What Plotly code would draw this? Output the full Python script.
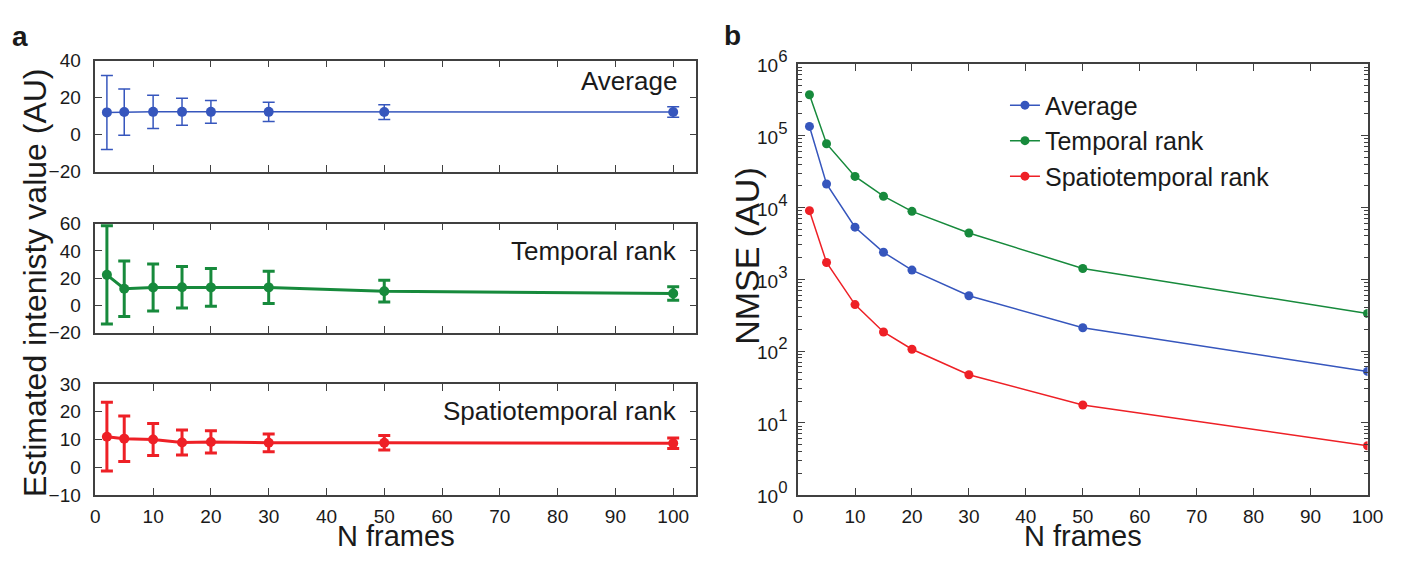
import plotly.graph_objects as go

# ---------------- data ----------------
n_frames = [2, 5, 10, 15, 20, 30, 50, 100]

avg_mean = [12.0, 12.2, 12.3, 12.3, 12.3, 12.3, 12.2, 12.2]
avg_err = [20.0, 12.5, 9.0, 7.3, 6.2, 5.2, 4.0, 2.8]

temp_mean = [22.5, 12.3, 13.2, 13.4, 13.3, 13.3, 10.5, 8.8]
temp_err = [36.0, 20.3, 17.3, 15.3, 13.8, 11.9, 8.0, 5.0]

spat_mean = [11.0, 10.3, 10.0, 8.9, 9.1, 8.8, 8.8, 8.6]
spat_err = [12.4, 8.2, 5.8, 4.5, 4.0, 3.2, 2.6, 1.9]

nmse_avg = [1.34e5, 2.12e4, 5.3e3, 2.37e3, 1.34e3, 588, 211, 52]
nmse_temp = [3.7e5, 7.7e4, 2.7e4, 1.43e4, 8.8e3, 4.4e3, 1.41e3, 333]
nmse_spat = [9.0e3, 1.71e3, 443, 184, 106, 46.8, 17.7, 4.8]

series_names = ["Average", "Temporal rank", "Spatiotemporal rank"]
x_ticks = [0, 10, 20, 30, 40, 50, 60, 70, 80, 90, 100]
log_tickvals = [1, 10, 100, 1000, 10000, 100000, 1000000]
log_exponents = ["0", "1", "2", "3", "4", "5", "6"]

# ---------------- style ----------------
BLUE = "#3656bd"
GREEN = "#178a3c"
RED = "#ee2026"
FRAME = "#404040"
TXT = "#1a1a1a"
FONT = "Liberation Sans, Arial, Helvetica, sans-serif"
W, H = 1417, 561


def px(x):
    return x / W


def py(y):
    return 1 - y / H


log_ticktext = ["<span style='font-size:19px'>10</span><sup>%s</sup>" % e
                for e in log_exponents]

fig = go.Figure()

# left panels
fig.add_trace(go.Scatter(
    x=n_frames, y=avg_mean, mode="lines+markers", name=series_names[0],
    line=dict(color=BLUE, width=1.5), marker=dict(color=BLUE, size=10),
    error_y=dict(type="data", array=avg_err, color=BLUE, thickness=1.5, width=6),
    xaxis="x", yaxis="y", showlegend=False))
fig.add_trace(go.Scatter(
    x=n_frames, y=temp_mean, mode="lines+markers", name=series_names[1],
    line=dict(color=GREEN, width=3), marker=dict(color=GREEN, size=10),
    error_y=dict(type="data", array=temp_err, color=GREEN, thickness=3, width=6),
    xaxis="x2", yaxis="y2", showlegend=False))
fig.add_trace(go.Scatter(
    x=n_frames, y=spat_mean, mode="lines+markers", name=series_names[2],
    line=dict(color=RED, width=3), marker=dict(color=RED, size=10),
    error_y=dict(type="data", array=spat_err, color=RED, thickness=3, width=6),
    xaxis="x3", yaxis="y3", showlegend=False))

# right panel
for vals, col, nm in [(nmse_avg, BLUE, series_names[0]),
                      (nmse_temp, GREEN, series_names[1]),
                      (nmse_spat, RED, series_names[2])]:
    fig.add_trace(go.Scatter(
        x=n_frames, y=vals, mode="lines+markers", name=nm,
        line=dict(color=col, width=1.5), marker=dict(color=col, size=9),
        xaxis="x4", yaxis="y4"))

common = dict(showline=True, linecolor=FRAME, linewidth=1.5, mirror="ticks",
              ticks="inside", ticklen=7, tickwidth=1.2, tickcolor=FRAME,
              showgrid=False, zeroline=False,
              tickfont=dict(family=FONT, size=19, color=TXT))
xcommon = dict(common, ticklabelstandoff=4)
ycommon = dict(common, ticklabelstandoff=9)
logcommon = dict(common, ticklabelstandoff=4,
                 tickfont=dict(family=FONT, size=24, color=TXT))

left_dom = [px(91.7), px(701.7)]
right_dom = [px(805), px(1383)]

minor_vals = [k * 10 ** d for d in range(6) for k in range(2, 10)]

fig.update_layout(
    width=W, height=H,
    margin=dict(l=0, r=0, t=0, b=0),
    paper_bgcolor="white", plot_bgcolor="white",
    font=dict(family=FONT, color=TXT),
    xaxis=dict(domain=left_dom, range=[0, 104], anchor="y", tickvals=x_ticks,
               showticklabels=False, **xcommon),
    yaxis=dict(domain=[py(163), py(46)], range=[-20, 40], anchor="x",
               tickvals=[-20, 0, 20, 40], **ycommon),
    xaxis2=dict(domain=left_dom, range=[0, 104], anchor="y2", tickvals=x_ticks,
                showticklabels=False, **xcommon),
    yaxis2=dict(domain=[py(333), py(218)], range=[-20, 60], anchor="x2",
                tickvals=[-20, 0, 20, 40, 60], **ycommon),
    xaxis3=dict(domain=left_dom, range=[0, 104], anchor="y3", tickvals=x_ticks,
                **xcommon),
    yaxis3=dict(domain=[py(504), py(387)], range=[-10, 30], anchor="x3",
                tickvals=[-10, 0, 10, 20, 30], **ycommon),
    xaxis4=dict(domain=right_dom, range=[0, 100], anchor="y4", tickvals=x_ticks,
                **xcommon),
    yaxis4=dict(domain=[py(503.7), py(49.3)], type="log", range=[0, 6], anchor="x4",
                tickvals=log_tickvals, ticktext=log_ticktext,
                minor=dict(tickvals=minor_vals, ticks="inside", ticklen=4,
                           tickwidth=1, tickcolor=FRAME),
                **logcommon),
    legend=dict(x=px(1015), y=py(69), xanchor="left", yanchor="top",
                bgcolor="rgba(0,0,0,0)", font=dict(family=FONT, size=25, color=TXT),
                itemwidth=30, tracegroupgap=0),
)

ann = [
    dict(text="Average", x=px(684), y=py(67), xanchor="right", yanchor="middle", size=26),
    dict(text="Temporal rank", x=px(684), y=py(247), xanchor="right", yanchor="middle", size=26),
    dict(text="Spatiotemporal rank", x=px(684), y=py(415), xanchor="right", yanchor="middle", size=26),
    dict(text="N frames", x=px(396.7), y=py(547), xanchor="center", yanchor="middle", size=29),
    dict(text="N frames", x=px(1094), y=py(547), xanchor="center", yanchor="middle", size=29),
    dict(text="<b>a</b>", x=px(15), y=py(21), xanchor="center", yanchor="middle", size=28),
    dict(text="<b>b</b>", x=px(738), y=py(20), xanchor="center", yanchor="middle", size=28),
]
for a in ann:
    fig.add_annotation(text=a["text"], x=a["x"], y=a["y"], xref="paper", yref="paper",
                       xanchor=a["xanchor"], yanchor=a["yanchor"], showarrow=False,
                       font=dict(family=FONT, size=a["size"], color=TXT))

fig.add_annotation(text="Estimated intenisty value (AU)", x=px(30), y=py(280),
                   xref="paper", yref="paper", textangle=-90, showarrow=False,
                   xanchor="center", yanchor="middle",
                   font=dict(family=FONT, size=32, color=TXT))
fig.add_annotation(text="NMSE (AU)", x=px(753), y=py(252),
                   xref="paper", yref="paper", textangle=-90, showarrow=False,
                   xanchor="center", yanchor="middle",
                   font=dict(family=FONT, size=34, color=TXT))

fig.write_html("out.html")
